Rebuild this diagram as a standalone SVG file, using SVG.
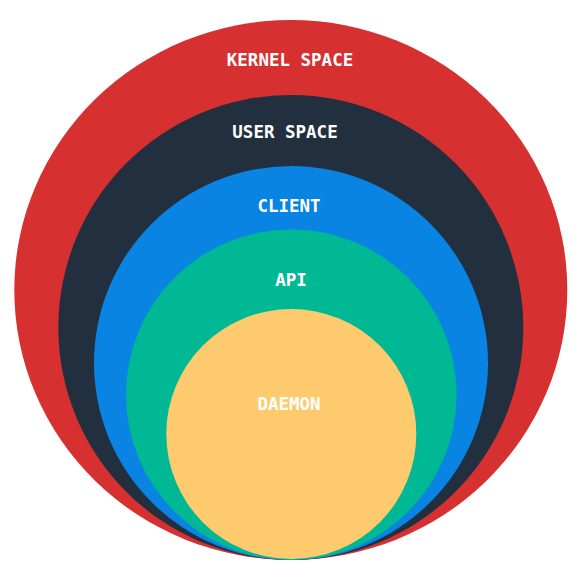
<svg xmlns="http://www.w3.org/2000/svg" width="580" height="580" viewBox="0 0 580 580">
<style>
.lbl{font-family:"DejaVu Sans Mono","Liberation Mono",monospace;font-weight:bold;font-size:17.5px;fill:#ffffff;text-anchor:middle}
</style>
<rect width="580" height="580" fill="#ffffff"/>
<g id="kernel"><ellipse cx="290.8" cy="290" rx="276.5" ry="270" fill="#d63031"/><text class="lbl" x="290" y="66">KERNEL SPACE</text></g>
<g id="user"><circle cx="290.8" cy="327.5" r="232.5" fill="#222f3e"/><text class="lbl" x="285" y="138">USER SPACE</text></g>
<g id="client"><circle cx="291" cy="363" r="197" fill="#0984e3"/><text class="lbl" x="289" y="212">CLIENT</text></g>
<g id="api"><circle cx="291.3" cy="394.7" r="165.3" fill="#00b894"/><text class="lbl" x="291" y="286">API</text></g>
<g id="daemon"><circle cx="291.3" cy="434" r="125" fill="#fdcb6e"/><text class="lbl" x="289" y="410">DAEMON</text></g>
<g id="connectors"/>
</svg>
